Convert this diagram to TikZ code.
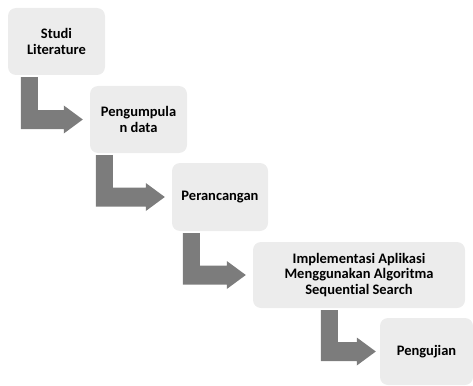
\documentclass[tikz,border=0pt]{standalone}
\usepackage{fontspec}
\setmainfont{Carlito}[Ligatures=NoCommon]
\usepackage{tikz}
\usetikzlibrary{calc}

\definecolor{boxgray}{RGB}{236,236,236}
\definecolor{arrowgray}{RGB}{124,124,124}

\begin{document}
\begin{tikzpicture}[x=1pt,y=-1pt,
	stage/.style={fill=boxgray, rounded corners=8pt, align=center,
		font=\bfseries\fontsize{14.5}{15.5}\selectfont, inner sep=0pt},
	flow/.style={fill=arrowgray}]
	\useasboundingbox (0,0) rectangle (473,385);
	
	% Stages of the method
	\node[stage, minimum width=97pt, minimum height=67pt] (studi) at (56.5,41.5) {Studi\\Literature};
	\node[stage, minimum width=97pt, minimum height=67pt] (kumpul) at (138.5,119.5) {Pengumpula\\n data};
	\node[stage, minimum width=96pt, minimum height=68pt] (rancang) at (220,197) {Perancangan};
	\node[stage, minimum width=212pt, minimum height=66pt] (impl) at (359,275) {Implementasi Aplikasi\\Menggunakan Algoritma\\Sequential Search};
	\node[stage, minimum width=93pt, minimum height=67pt] (uji) at (426.5,351.5) {Pengujian};
	
	% Bent arrows between stages
	\fill[flow] let \p1 = ($(studi.south west)+(13,2)$), \p2 = ($(kumpul.west)+(-7,0)$) in
		(\x1,\y1) -- (\x1+17pt,\y1) -- (\x1+17pt,\y2+9.5pt) -- (\x2-19pt,\y2+9.5pt)
		-- (\x2-19pt,\y2+14pt) -- (\x2,\y2) -- (\x2-19pt,\y2-14pt)
		-- (\x2-19pt,\y2-9.5pt) -- (\x1,\y2-9.5pt) -- cycle;
	\fill[flow] let \p1 = ($(kumpul.south west)+(6,2)$), \p2 = ($(rancang.west)+(-7,0)$) in
		(\x1,\y1) -- (\x1+17pt,\y1) -- (\x1+17pt,\y2+9.5pt) -- (\x2-19pt,\y2+9.5pt)
		-- (\x2-19pt,\y2+14pt) -- (\x2,\y2) -- (\x2-19pt,\y2-14pt)
		-- (\x2-19pt,\y2-9.5pt) -- (\x1,\y2-9.5pt) -- cycle;
	\fill[flow] let \p1 = ($(rancang.south west)+(11,2)$), \p2 = ($(impl.west)+(-7,0)$) in
		(\x1,\y1) -- (\x1+17pt,\y1) -- (\x1+17pt,\y2+9.5pt) -- (\x2-19pt,\y2+9.5pt)
		-- (\x2-19pt,\y2+14pt) -- (\x2,\y2) -- (\x2-19pt,\y2-14pt)
		-- (\x2-19pt,\y2-9.5pt) -- (\x1,\y2-9.5pt) -- cycle;
	\fill[flow] let \p1 = ($(impl.south west)+(68,2)$), \p2 = ($(uji.west)+(-4,0)$) in
		(\x1,\y1) -- (\x1+17pt,\y1) -- (\x1+17pt,\y2+9.5pt) -- (\x2-19pt,\y2+9.5pt)
		-- (\x2-19pt,\y2+14pt) -- (\x2,\y2) -- (\x2-19pt,\y2-14pt)
		-- (\x2-19pt,\y2-9.5pt) -- (\x1,\y2-9.5pt) -- cycle;
	
\end{tikzpicture}
\end{document}
